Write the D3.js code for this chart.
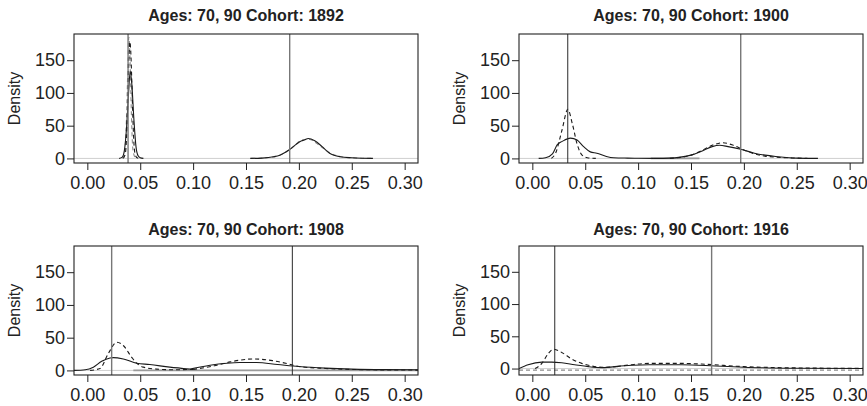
<!DOCTYPE html>
<html>
<head>
<meta charset="utf-8">
<script src="https://cdn.jsdelivr.net/npm/d3@7"></script>
<style>
  body { margin: 0; background: #fff; }
  text { font-family: "Liberation Sans", Arial, sans-serif; fill: #222; }
</style>
</head>
<body>
<div id="chart"></div>
<script>
// panel titles and axis ticks
var cohorts = [1892, 1900, 1908, 1916];
var xTicks = [0.00, 0.05, 0.10, 0.15, 0.20, 0.25, 0.30];
var yTicks = [0, 50, 100, 150];

// vertical reference lines per cohort: [x, colour kind]
var vlines1892 = [[0.0385, "gray"], [0.1913, "gray"]];
var vlines1900 = [[0.0335, "black"], [0.1970, "gray"]];
var vlines1908 = [[0.0230, "gray"], [0.1938, "black"]];
var vlines1916 = [[0.0212, "black"], [0.1695, "gray"]];

// density curves: [x, density]
var solid1892a = [[0.030,0],[0.033,2],[0.035,12],[0.037,45],[0.039,100],[0.0405,133],[0.042,115],[0.044,60],[0.046,18],[0.048,4],[0.050,1],[0.053,0]];
var dashed1892a = [[0.034,0],[0.036,8],[0.038,70],[0.0395,160],[0.0403,178],[0.041,165],[0.042,120],[0.043,65],[0.044,25],[0.045,8],[0.047,1],[0.049,0]];
var grayDash1892a = [[0.033,0],[0.035,5],[0.037,60],[0.0385,150],[0.0392,185],[0.040,170],[0.041,110],[0.042,50],[0.043,15],[0.045,2],[0.047,0]];
var solid1892b = [[0.154,0],[0.165,0.5],[0.176,2.5],[0.182,5],[0.1916,14],[0.197,21],[0.2027,27],[0.205,28],[0.2089,30.5],[0.215,27],[0.222,18],[0.229,8],[0.239,2.6],[0.25,1],[0.26,0.3],[0.27,0]];
var grayDash1892b = [[0.155,0],[0.17,1],[0.185,7],[0.195,18],[0.2027,28],[0.21,29],[0.22,19],[0.23,8],[0.24,2.5],[0.255,0.5],[0.27,0]];

var solid1900a = [[0.006,0],[0.0125,1],[0.019,7],[0.0236,21],[0.0283,26],[0.036,31],[0.0423,28],[0.0485,18],[0.0548,10],[0.061,8],[0.070,3],[0.077,1],[0.09,0.5],[0.10,0.3],[0.115,0]];
var dashed1900a = [[0.018,0],[0.022,8],[0.028,43],[0.0336,75],[0.0378,53],[0.0425,21],[0.047,5],[0.052,1],[0.06,0]];
var solid1900b = [[0.115,0],[0.13,0.5],[0.14,2],[0.15,5],[0.16,11],[0.17,18],[0.177,20],[0.185,18],[0.197,14],[0.21,8],[0.22,5],[0.23,3],[0.24,1.5],[0.25,0.5],[0.27,0]];
var dashed1900b = [[0.13,0],[0.15,5],[0.16,12],[0.17,20],[0.18,24],[0.19,20],[0.20,13],[0.21,7],[0.22,3.5],[0.23,2],[0.25,0.5],[0.26,0]];
var gray1900 = [[0.112,0],[0.158,0]];

var solid1908a = [[-0.0126,0],[-0.002,1],[0.0057,5],[0.0136,14],[0.0215,19],[0.0246,19.6],[0.034,17.5],[0.0467,11],[0.059,9],[0.078,5],[0.097,2]];
var solid1908b = [[0.097,2],[0.116,8],[0.132,11],[0.144,12],[0.16,12],[0.18,9],[0.20,6],[0.225,3.5],[0.25,2],[0.28,1.2],[0.3126,1]];
var dashed1908a = [[0.0026,0],[0.012,3],[0.0199,26],[0.0278,43],[0.034,38],[0.042,20],[0.0467,11],[0.053,5],[0.0656,2],[0.08,1],[0.10,1.5]];
var dashed1908b = [[0.10,1.5],[0.12,7],[0.135,13],[0.157,17.5],[0.175,15],[0.19,10],[0.20,6],[0.225,3],[0.25,1.5],[0.28,0.8],[0.3126,0.5]];
var gray1908 = [[0.0435,0],[0.3126,0]];

var solid1916a = [[-0.0126,0],[-0.004,6],[0.0089,10],[0.0183,10],[0.0278,9],[0.040,6],[0.053,3],[0.0656,1.5],[0.078,3]];
var solid1916b = [[0.078,3],[0.094,5],[0.1096,6],[0.141,6],[0.173,4],[0.20,2],[0.25,0.5],[0.3126,0]];
var dashed1916a = [[0.0026,0],[0.009,8],[0.015,23],[0.0199,30],[0.0278,25],[0.037,15],[0.0467,8],[0.056,4],[0.066,2],[0.08,3]];
var dashed1916b = [[0.08,3],[0.094,6],[0.11,8],[0.141,8],[0.16,7],[0.20,3],[0.25,1],[0.3126,0.3]];
var grayDash1916 = [[-0.0126,-2.5],[0.3126,-2.5]];

var panels = [
  {cohort: cohorts[0], left: 74, top: 34, titleY: 20.5, yMin: -7, vlines: vlines1892,
   series: [[grayDash1892a, "gd"], [dashed1892a, "d"], [solid1892a, "s"], [grayDash1892b, "gd"], [solid1892b, "s"]]},
  {cohort: cohorts[1], left: 519, top: 34, titleY: 20.5, yMin: -7, vlines: vlines1900,
   series: [[gray1900, "g"], [dashed1900a, "d"], [solid1900a, "s"], [dashed1900b, "d"], [solid1900b, "s"]]},
  {cohort: cohorts[2], left: 74, top: 246, titleY: 235, yMin: -7, vlines: vlines1908,
   series: [[gray1908, "g"], [dashed1908a, "d"], [dashed1908b, "d"], [solid1908a, "s"], [solid1908b, "s"]]},
  {cohort: cohorts[3], left: 519, top: 246, titleY: 235, yMin: -10, vlines: vlines1916,
   series: [[grayDash1916, "gd"], [dashed1916a, "d"], [dashed1916b, "d"], [solid1916a, "s"], [solid1916b, "s"]]}
];

var W = 867, H = 406;
var boxW = 344, boxH = 129;

var svg = d3.select("#chart").append("svg")
  .attr("width", W)
  .attr("height", H);

var styles = {
  s:  {stroke: "#1a1a1a", dash: null, width: 1.1},
  d:  {stroke: "#1a1a1a", dash: "4,3", width: 1.1},
  gd: {stroke: "#8a8a8a", dash: "4,3", width: 1.1},
  g:  {stroke: "#9a9a9a", dash: null, width: 1.6}
};

panels.forEach(function(p, i) {
  var x = d3.scaleLinear().domain([-0.0126, 0.3126]).range([0, boxW]);
  var y = d3.scaleLinear().domain([p.yMin, 190]).range([boxH, 0]);

  var g = svg.append("g").attr("transform", `translate(${p.left}, ${p.top})`);

  g.append("clipPath").attr("id", "clip" + i)
    .append("rect").attr("width", boxW).attr("height", boxH);

  var plot = g.append("g").attr("clip-path", `url(#clip${i})`);

  // zero line
  plot.append("line")
    .attr("x1", 0).attr("x2", boxW)
    .attr("y1", y(0)).attr("y2", y(0))
    .attr("stroke", "#cfcfcf").attr("stroke-width", 1);

  var line = d3.line()
    .x(d => x(d[0]))
    .y(d => y(d[1]))
    .curve(d3.curveMonotoneX);

  plot.selectAll(".curve")
    .data(p.series).enter()
    .append("path")
    .attr("class", "curve")
    .attr("d", d => line(d[0]))
    .attr("fill", "none")
    .attr("stroke", d => styles[d[1]].stroke)
    .attr("stroke-width", d => styles[d[1]].width)
    .attr("stroke-dasharray", d => styles[d[1]].dash);

  plot.selectAll(".vline")
    .data(p.vlines).enter()
    .append("line")
    .attr("class", "vline")
    .attr("x1", d => x(d[0])).attr("x2", d => x(d[0]))
    .attr("y1", 0).attr("y2", boxH)
    .attr("stroke", d => d[1] == "black" ? "#2a2a2a" : "#777")
    .attr("stroke-width", d => d[1] == "black" ? 1 : 1.4);

  // axes
  var xAxis = d3.axisBottom(x).tickValues(xTicks).tickFormat(d3.format(".2f"))
    .tickSize(7).tickPadding(6);
  var yAxis = d3.axisLeft(y).tickValues(yTicks).tickSize(7).tickPadding(2);

  var gx = g.append("g").attr("transform", `translate(0, ${boxH})`).call(xAxis);
  var gy = g.append("g").call(yAxis);
  [gx, gy].forEach(function(a) {
    a.select(".domain").remove();
    a.selectAll("line").attr("stroke", "#222");
    a.selectAll("text").style("font-size", "18px").attr("fill", "#222");
  });

  g.append("rect")
    .attr("width", boxW).attr("height", boxH)
    .attr("fill", "none").attr("stroke", "#222").attr("stroke-width", 1.1);

  g.append("text")
    .attr("x", boxW / 2)
    .attr("y", p.titleY - p.top)
    .attr("text-anchor", "middle")
    .style("font-size", "16px")
    .style("font-weight", "bold")
    .text(`Ages: 70, 90 Cohort: ${p.cohort}`);

  g.append("text")
    .attr("transform", `translate(-54, ${boxH / 2}) rotate(-90)`)
    .attr("text-anchor", "middle")
    .style("font-size", "16px")
    .text("Density");
});
</script>
</body>
</html>
